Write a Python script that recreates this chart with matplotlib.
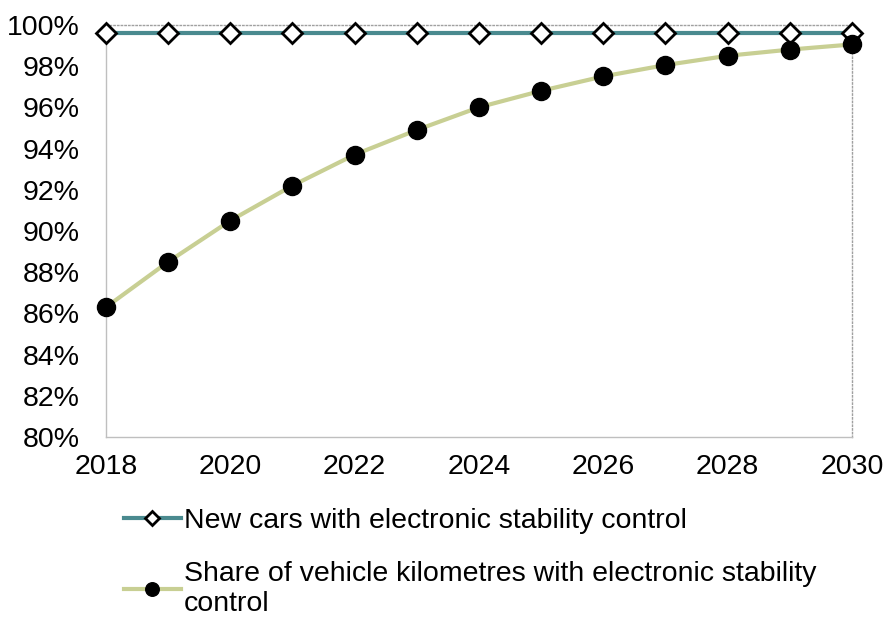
import matplotlib
matplotlib.use("Agg")
import matplotlib.pyplot as plt
from matplotlib.ticker import FuncFormatter

years = list(range(2018, 2031))
new_cars = [99.6] * 13
share_km = [86.3, 88.5, 90.5, 92.2, 93.7, 94.9, 96.0, 96.8, 97.5, 98.05, 98.5, 98.8, 99.05]

label_new = "New cars with electronic stability control"
label_share = "Share of vehicle kilometres with electronic stability\ncontrol"

plt.rcParams['font.family'] = ['Liberation Sans', 'DejaVu Sans']

fig = plt.figure(figsize=(8.86, 6.17), dpi=100)
ax = fig.add_axes([0.1196, 0.2917, 0.842, 0.668])

ax.plot(years, new_cars, color="#4A8A8F", lw=3, marker="D", ms=10,
        mfc="white", mec="black", mew=2, label=label_new, zorder=3, clip_on=False)
ax.plot(years, share_km, color="#C8CF93", lw=3, marker="o", ms=13,
        mfc="black", mec="black", label=label_share, zorder=3, clip_on=False)

ax.set_xlim(2018, 2030)
ax.set_ylim(80, 100)
ax.set_xticks(range(2018, 2031, 2))
ax.set_yticks(range(80, 101, 2))
ax.yaxis.set_major_formatter(FuncFormatter(lambda v, p: f"{v:.0f}%"))
ax.tick_params(length=0, labelsize=20.5)
ax.tick_params(axis="y", pad=19)
ax.tick_params(axis="x", pad=12)

for s in ["left", "bottom"]:
    ax.spines[s].set_color("#BFBFBF")
    ax.spines[s].set_linewidth(1)
for s in ["top", "right"]:
    ax.spines[s].set_color("#A0A0A0")
    ax.spines[s].set_linestyle(":")
    ax.spines[s].set_linewidth(1)

fig.legend(loc="upper left", bbox_to_anchor=(0.127, 0.195), frameon=False,
           fontsize=20.5, handlelength=2.0, handletextpad=0.1, labelspacing=0.95,
           markerscale=0.75, borderaxespad=0)

fig.savefig("out.png", dpi=100)
